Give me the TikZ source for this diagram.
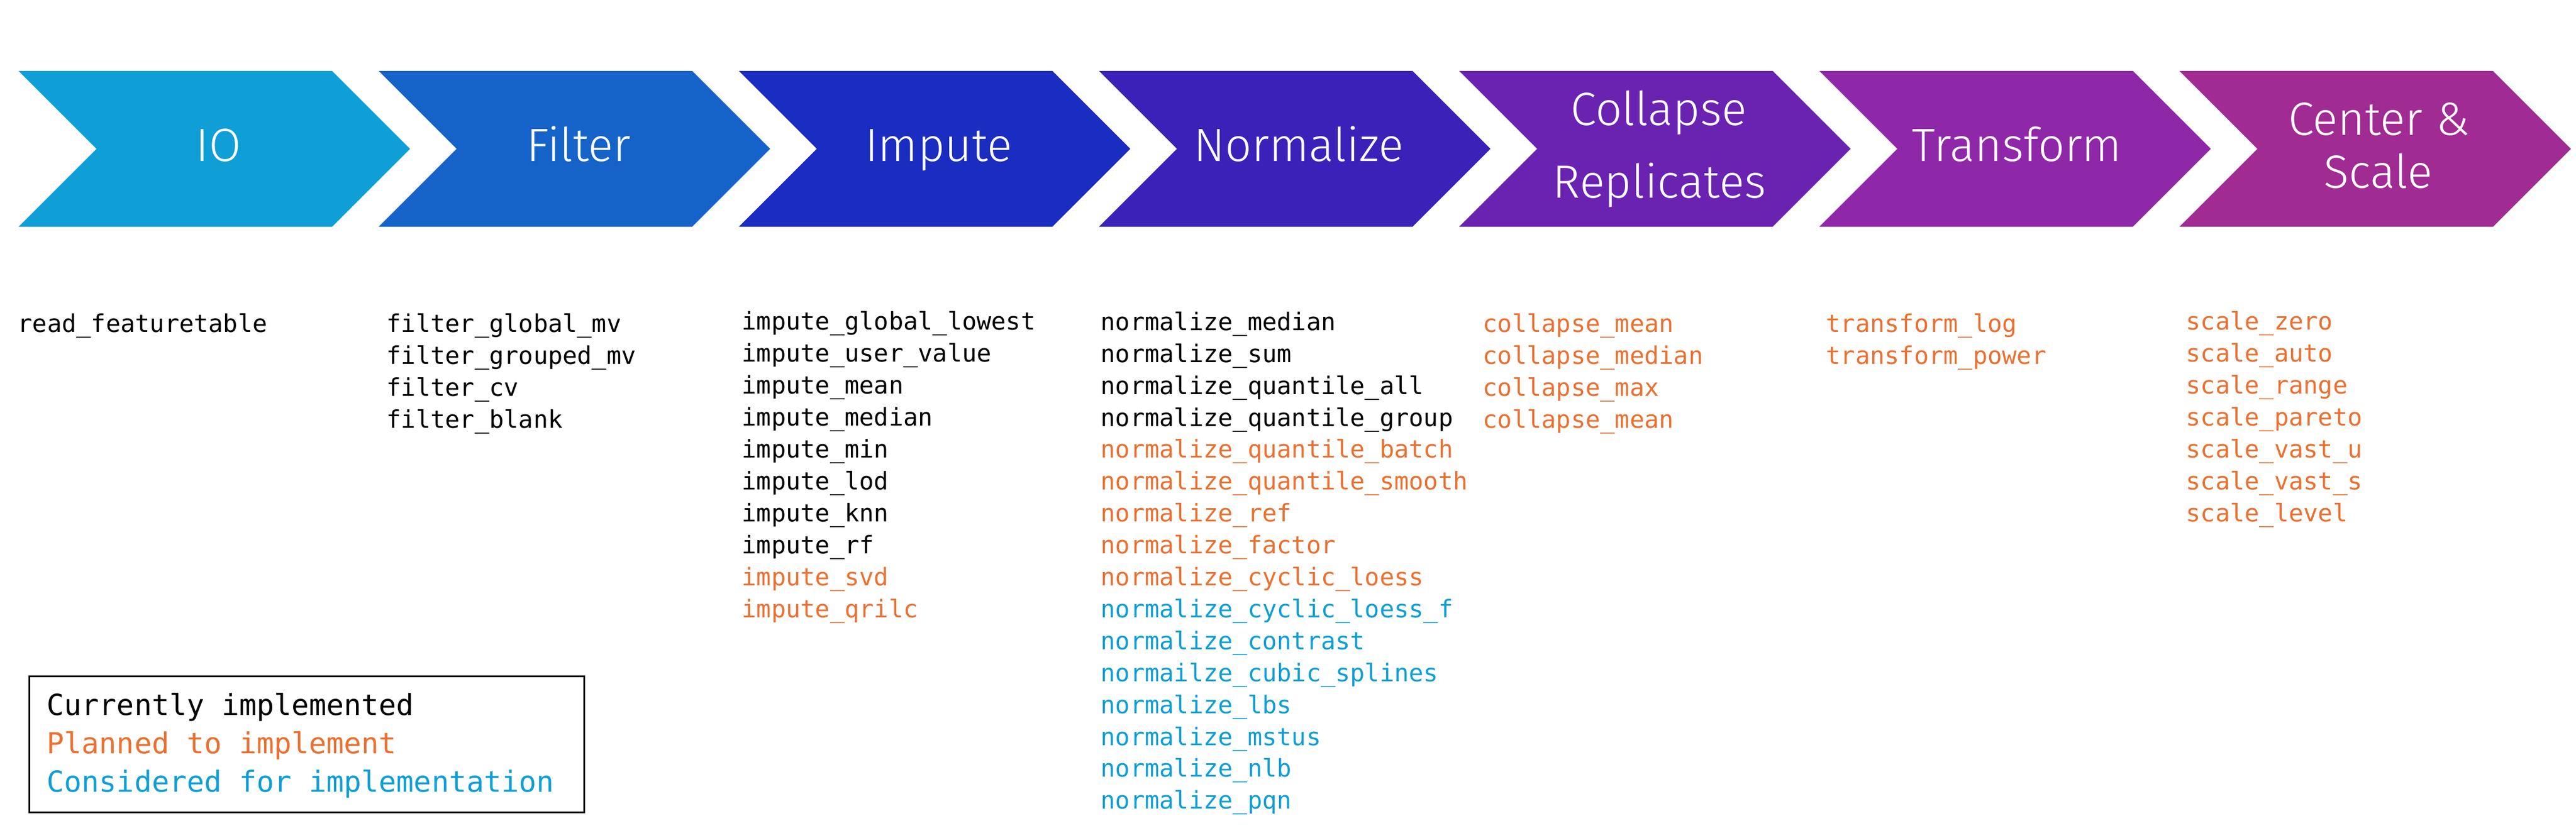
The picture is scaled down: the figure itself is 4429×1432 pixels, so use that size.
\documentclass[tikz,border=0pt]{standalone}
\usepackage{fontspec}
\newfontfamily\monofont{DejaVu Sans Mono}
\newfontfamily\chevfont{Fira Sans Light}
\definecolor{cIO}{HTML}{0F9ED5}
\definecolor{cFilter}{HTML}{1563C8}
\definecolor{cImpute}{HTML}{1B2CC0}
\definecolor{cNorm}{HTML}{3C21B9}
\definecolor{cColl}{HTML}{6A23B1}
\definecolor{cTrans}{HTML}{8F28A8}
\definecolor{cCenter}{HTML}{A02B93}
\definecolor{kK}{HTML}{000000}
\definecolor{kO}{HTML}{E97132}
\definecolor{kB}{HTML}{0F9ED5}
\begin{document}
\begin{tikzpicture}[x=0.01cm,y=-0.01cm]
\tikzset{
  chevlabel/.style={font=\chevfont\fontsize{22.8}{27}\selectfont, text=white, inner sep=0pt, anchor=base},
  fn/.style={font=\monofont\fontsize{11.92}{14}\selectfont, inner sep=0pt, anchor=base west},
  legtext/.style={font=\monofont\fontsize{14.2}{17}\selectfont, inner sep=0pt, anchor=base west},
  legbox/.style={draw=black, line width=0.85pt, fill=none},
}
\useasboundingbox (0,0) rectangle (4429,1432);
\fill[white] (0,0) rectangle (4429,1432);

% chevrons
\foreach \col [count=\i from 0] in {cIO,cFilter,cImpute,cNorm,cColl,cTrans,cCenter} {
  \pgfmathsetmacro\L{32+619.2*\i}
  \fill[\col] (\L,122) -- ++(539,0) -- ++(134,134) -- ++(-134,134) -- ++(-539,0) -- ++(134,-134) -- cycle;
}

% chevron labels
\node[chevlabel] (lIO) at (376,277) {IO};
\node[chevlabel] (lFilter) at (995,277) {Filter};
\node[chevlabel] (lImpute) at (1614,277) {Impute};
\node[chevlabel] (lNorm) at (2233,277) {Normalize};
\node[chevlabel] (lColl1) at (2852,215) {Collapse};
\node[chevlabel] (lColl2) at (2853,340) {Replicates};
\node[chevlabel] (lTrans) at (3468,277) {Transform};
\node[chevlabel] (lCS1) at (4090,232) {Center \&};
\node[chevlabel] (lCS2) at (4089,323) {Scale};

% IO list
\node[fn] (io0) at (30,571) {read\_featuretable};

% Filter list
\foreach \t [count=\i from 0] in {filter\_global\_mv,filter\_grouped\_mv,filter\_cv,filter\_blank} {
  \node[fn] (fi\i) at (664,{571+55*\i}) {\t};
}

% Impute list
\foreach \t/\c [count=\i from 0] in {impute\_global\_lowest/kK,impute\_user\_value/kK,impute\_mean/kK,impute\_median/kK,impute\_min/kK,impute\_lod/kK,impute\_knn/kK,impute\_rf/kK,impute\_svd/kO,impute\_qrilc/kO} {
  \node[fn,text=\c] (im\i) at (1275,{567+55*\i}) {\t};
}

% Normalize list
\foreach \t/\c [count=\i from 0] in {normalize\_median/kK,normalize\_sum/kK,normalize\_quantile\_all/kK,normalize\_quantile\_group/kK,normalize\_quantile\_batch/kO,normalize\_quantile\_smooth/kO,normalize\_ref/kO,normalize\_factor/kO,normalize\_cyclic\_loess/kO,normalize\_cyclic\_loess\_f/kB,normalize\_contrast/kB,normailze\_cubic\_splines/kB,normalize\_lbs/kB,normalize\_mstus/kB,normalize\_nlb/kB,normalize\_pqn/kB} {
  \node[fn,text=\c] (no\i) at (1892,{568.3+54.9*\i}) {\t};
}

% Collapse list
\foreach \t [count=\i from 0] in {collapse\_mean,collapse\_median,collapse\_max,collapse\_mean} {
  \node[fn,text=kO] (co\i) at (2549,{571+55*\i}) {\t};
}

% Transform list
\foreach \t [count=\i from 0] in {transform\_log,transform\_power} {
  \node[fn,text=kO] (tr\i) at (3139,{571+55*\i}) {\t};
}

% Scale list
\foreach \t [count=\i from 0] in {scale\_zero,scale\_auto,scale\_range,scale\_pareto,scale\_vast\_u,scale\_vast\_s,scale\_level} {
  \node[fn,text=kO] (sc\i) at (3758,{567+55*\i}) {\t};
}

% Legend
\node[legbox, minimum width=954*0.01cm, minimum height=234*0.01cm, inner sep=0pt, anchor=north west] (legend) at (49,1162) {};
\node[legtext,text=kK] (lg0) at (80,1230) {Currently implemented};
\node[legtext,text=kO] (lg1) at (80,1296) {Planned to implement};
\node[legtext,text=kB] (lg2) at (80,1362) {Considered for implementation};
\end{tikzpicture}
\end{document}
